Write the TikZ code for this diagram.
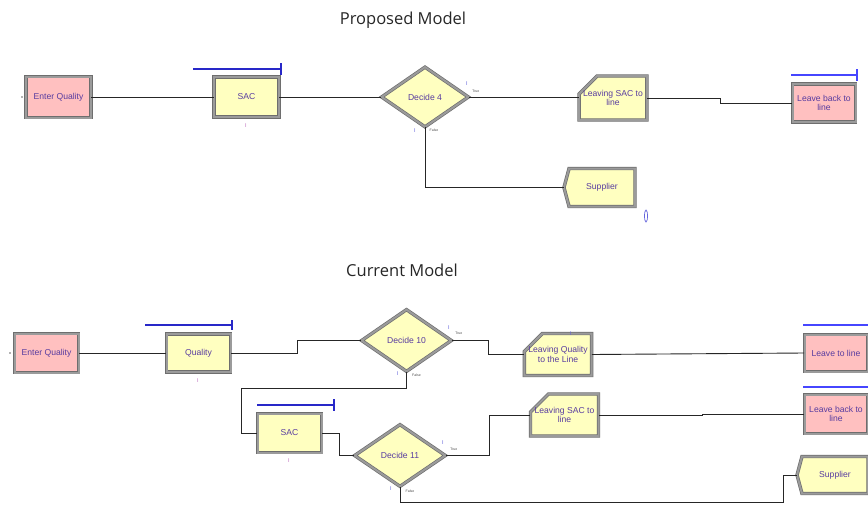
\documentclass[tikz,border=0pt]{standalone}
\usepackage{fontspec}
\setmainfont{Liberation Sans}
\newfontfamily\titlefont{Open Sans}
\usetikzlibrary{shapes.geometric,shapes.misc,shapes.symbols}
\definecolor{pinkfill}{RGB}{255,192,192}
\definecolor{yelfill}{RGB}{255,255,192}
\definecolor{modtext}{RGB}{88,60,160}
\definecolor{qblue}{RGB}{40,40,200}
\definecolor{qbright}{RGB}{70,70,255}
\definecolor{bordd}{RGB}{110,110,110}
\definecolor{bordl}{RGB}{155,155,155}
\definecolor{marker}{RGB}{100,100,220}
\definecolor{pmark}{RGB}{190,110,190}
\tikzset{
  modbase/.style={draw=bordd, double=bordl, double distance=2pt, line width=0.7pt,
    inner sep=1pt, align=center, text=modtext, font=\fontsize{8.6}{9.6}\selectfont},
  createbox/.style={modbase, rectangle, fill=pinkfill},
  procbox/.style={modbase, rectangle, fill=yelfill},
  decbox/.style={modbase, diamond, fill=yelfill, inner sep=0pt},
  stabox/.style={modbase, chamfered rectangle, chamfered rectangle corners=north west,
    chamfered rectangle xsep=9pt, chamfered rectangle ysep=9pt, inner xsep=-5pt, fill=yelfill},
  supbox/.style={modbase, signal, signal to=west, signal pointer angle=150, fill=yelfill},
  conn/.style={draw=black!85, line width=0.9pt},
  qline/.style={draw=qblue, line width=1.3pt},
  qlineb/.style={draw=qbright, line width=1.5pt},
  tf/.style={font=\fontsize{3.5}{3.5}\selectfont, text=black!70, inner sep=0pt},
  imark/.style={font=\fontsize{5.5}{5.5}\selectfont, text=marker, inner sep=0pt},
  pimark/.style={font=\fontsize{5.5}{5.5}\selectfont, text=pmark, inner sep=0pt},
  ttl/.style={font=\titlefont\fontsize{16.5}{18}\selectfont, text=black!85},
  edot/.style={circle, fill=black!60, inner sep=0pt, minimum size=1.6pt}
}
\begin{document}
\begin{tikzpicture}[x=1pt,y=-1pt]
\useasboundingbox[fill=white] (0,0) rectangle (868,504);

% ---------- Proposed model ----------
\node[ttl] (t1) at (403,20) {Proposed Model};
\node[edot] (e1) at (22,97) {};
\node[createbox, minimum width=65, minimum height=41] (eq1) at (58.5,97) {Enter Quality};
\node[procbox, minimum width=65, minimum height=40] (sac1) at (246.5,97) {SAC};
\node[decbox, minimum width=87, minimum height=60] (d4) at (425,97) {Decide 4};
\node[stabox, minimum width=67, minimum height=44] (ls1) at (613,98) {Leaving SAC to\\line};
\node[createbox, minimum width=63, minimum height=38] (lb1) at (824,103) {Leave back to\\line};
\node[supbox, minimum width=71, minimum height=38] (sup1) at (602,187.5) {Supplier};
\node[draw=marker, ellipse, line width=0.7pt, minimum width=3, minimum height=12, inner sep=0pt] (o1) at (646,216) {};

\draw[qline] (193,69) -- (281,69);
\draw[qline] (281,63) -- (281,75);
\draw[qlineb] (791,75) -- (857,75);
\draw[qlineb] (857,69) -- (857,81);
\node[pimark] (m1) at (246,126) {I};
\node[imark] (m2) at ([shift={(-2,-13)}]d4.east) {I};
\node[imark] (m3) at ([shift={(-10,3)}]d4.south) {I};
\node[tf] (tr1) at ([shift={(7,-6)}]d4.east) {True};
\node[tf] (fa1) at ([shift={(9,3)}]d4.south) {False};

\draw[conn] (eq1.east) -- (sac1.west);
\draw[conn] (sac1.east) -- (d4.west);
\draw[conn] (d4.east) -- (d4.east -| ls1.west);
\draw[conn] (ls1.east) -- (720,98) |- (lb1.west);
\draw[conn] (d4.south) |- (sup1.west);

% ---------- Current model ----------
\node[ttl] (t2) at (402,270) {Current Model};
\node[edot] (e2) at (10,353) {};
\node[createbox, minimum width=64, minimum height=39] (eq2) at (46.5,353) {Enter Quality};
\node[procbox, minimum width=64, minimum height=38] (q2) at (198.5,353) {Quality};
\node[decbox, minimum width=90, minimum height=62] (d10) at (406.5,340.5) {Decide 10};
\node[stabox, minimum width=67, minimum height=42] (lq) at (558,354.5) {Leaving Quality\\to the Line};
\node[createbox, minimum width=63, minimum height=37] (lt) at (836,353) {Leave to line};
\node[procbox, minimum width=64, minimum height=39] (sac2) at (289.5,433) {SAC};
\node[decbox, minimum width=91, minimum height=62] (d11) at (400,455.5) {Decide 11};
\node[stabox, minimum width=68, minimum height=42] (ls2) at (564.5,415) {Leaving SAC to\\line};
\node[createbox, minimum width=63, minimum height=39] (lb2) at (836,414) {Leave back to\\line};
\node[supbox, minimum width=71, minimum height=37] (sup2) at (835,475) {Supplier};

\draw[qline] (145,325) -- (232,325);
\draw[qline] (232,320) -- (232,330);
\draw[qline] (257,405) -- (334,405);
\draw[qline] (334,399) -- (334,411);
\draw[qlineb] (803,325) -- (868,325);
\draw[qlineb] (803,387) -- (868,387);
\node[pimark] (m4) at (198,381) {I};
\node[pimark] (m5) at (289,461) {I};
\node[imark] (m6) at (571,334) {I};
\node[imark] (m7) at ([shift={(-3,-13)}]d10.east) {I};
\node[imark] (m8) at ([shift={(-9,2)}]d10.south) {I};
\node[tf] (tr2) at ([shift={(7,-7)}]d10.east) {True};
\node[tf] (fa2) at ([shift={(10,3)}]d10.south) {False};
\node[imark] (m9) at ([shift={(-3,-13)}]d11.east) {I};
\node[imark] (m10) at ([shift={(-9,2)}]d11.south) {I};
\node[tf] (tr3) at ([shift={(8,-6)}]d11.east) {True};
\node[tf] (fa3) at ([shift={(10,4)}]d11.south) {False};

\draw[conn] (eq2.east) -- (q2.west);
\draw[conn] (q2.east) -- (297,353) |- (d10.west);
\draw[conn] (d10.east) -- (488,340.5) |- (lq.west);
\draw[conn] (lq.east) -- (lt.west);
\draw[conn] (d10.south) |- (241,388) |- (sac2.west);
\draw[conn] (sac2.east) -- (339,433) |- (d11.west);
\draw[conn] (d11.east) -- (489,455.5) |- (ls2.west);
\draw[conn] (ls2.east) -- (702,415) |- (lb2.west);
\draw[conn] (d11.south) |- (783,502) |- (sup2.west);
\end{tikzpicture}
\end{document}
